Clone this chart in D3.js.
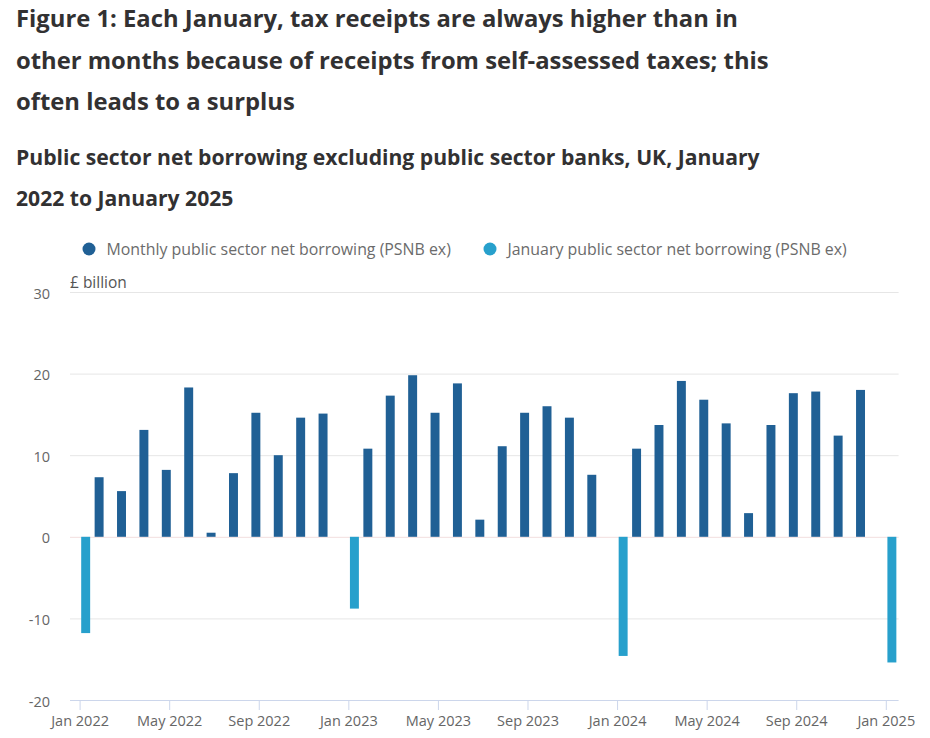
<!DOCTYPE html>
<html>
<head>
<meta charset="utf-8">
<script src="https://cdn.jsdelivr.net/npm/d3@7"></script>
<style>
  html, body { margin: 0; padding: 0; background: #fff; }
  svg { display: block; font-family: "Open Sans", sans-serif; }
</style>
</head>
<body>
<svg id="chart" width="930" height="738"></svg>
<script>
// ---- Data ----
const titleLines = [
  "Figure 1: Each January, tax receipts are always higher than in",
  "other months because of receipts from self-assessed taxes; this",
  "often leads to a surplus"
];
const subtitleLines = [
  "Public sector net borrowing excluding public sector banks, UK, January",
  "2022 to January 2025"
];
const months = [
  "Jan 2022","Feb 2022","Mar 2022","Apr 2022","May 2022","Jun 2022","Jul 2022","Aug 2022","Sep 2022","Oct 2022","Nov 2022","Dec 2022",
  "Jan 2023","Feb 2023","Mar 2023","Apr 2023","May 2023","Jun 2023","Jul 2023","Aug 2023","Sep 2023","Oct 2023","Nov 2023","Dec 2023",
  "Jan 2024","Feb 2024","Mar 2024","Apr 2024","May 2024","Jun 2024","Jul 2024","Aug 2024","Sep 2024","Oct 2024","Nov 2024","Dec 2024",
  "Jan 2025"
];
const monthlyBorrowing = [
  null, 7.3, 5.6, 13.1, 8.2, 18.3, 0.5, 7.8, 15.2, 10.0, 14.6, 15.1,
  null, 10.8, 17.3, 19.8, 15.2, 18.8, 2.1, 11.1, 15.2, 16.0, 14.6, 7.6,
  null, 10.8, 13.7, 19.1, 16.8, 13.9, 2.9, 13.7, 17.6, 17.8, 12.4, 18.0,
  null
];
const januaryBorrowing = [
  -11.8, null, null, null, null, null, null, null, null, null, null, null,
  -8.8, null, null, null, null, null, null, null, null, null, null, null,
  -14.6, null, null, null, null, null, null, null, null, null, null, null,
  -15.4
];
const seriesNames = ["Monthly public sector net borrowing (PSNB ex)", "January public sector net borrowing (PSNB ex)"];
const seriesKeys = ["monthly", "january"];
const seriesColors = ["#206095", "#27a0cc"];
const yTicks = [-20, -10, 0, 10, 20, 30];
const xTickLabels = ["Jan 2022","May 2022","Sep 2022","Jan 2023","May 2023","Sep 2023","Jan 2024","May 2024","Sep 2024","Jan 2025"];
const yUnit = "£ billion";

// ---- Layout ----
const svg = d3.select("#chart");
const plot = { left: 70, right: 898.6, top: 292, bottom: 700 };

const x = d3.scaleBand().domain(months).range([plot.left, plot.right]).paddingInner(0.2).paddingOuter(0.1);
const xSub = d3.scaleBand().domain(seriesKeys).range([0, x.bandwidth()]);
const y = d3.scaleLinear().domain([-20, 30]).range([plot.bottom, plot.top]);

// Titles
svg.append("g").selectAll("text").data(titleLines).join("text")
  .attr("x", 16).attr("y", (d, i) => 27 + i * 41.7)
  .attr("fill", "#323132").attr("font-size", 23.8).attr("font-weight", 700)
  .text(d => d);
svg.append("g").selectAll("text").data(subtitleLines).join("text")
  .attr("x", 16).attr("y", (d, i) => 164.5 + i * 41.7)
  .attr("fill", "#323132").attr("font-size", 21.15).attr("font-weight", 700)
  .text(d => d);

// Legend
const legendX = [89, 490];
const leg = svg.append("g").selectAll("g").data(seriesNames).join("g")
  .attr("transform", (d, i) => `translate(${legendX[i]},249)`);
leg.append("circle").attr("r", 6.5).attr("fill", (d, i) => seriesColors[i]);
leg.append("text").attr("x", 17.5).attr("y", 5.5)
  .attr("fill", "#6b6b6b").attr("font-size", 15.9).text(d => d);

// Unit label
svg.append("text").attr("x", 70).attr("y", 288).attr("fill", "#555")
  .attr("font-size", 15.5).text(yUnit);

// Gridlines
svg.append("g").selectAll("line").data(yTicks.filter(t => t !== -20)).join("line")
  .attr("x1", plot.left).attr("x2", plot.right)
  .attr("y1", d => y(d) + 0.5).attr("y2", d => y(d) + 0.5)
  .attr("stroke", d => d === 0 ? "#f2dede" : "#e6e6e6").attr("stroke-width", 1);

// Y axis labels
svg.append("g").selectAll("text").data(yTicks).join("text")
  .attr("x", 50).attr("y", d => y(d) + 1.5).attr("dy", "0.35em")
  .attr("text-anchor", "end").attr("fill", "#666").attr("font-size", 14.5)
  .text(d => d);

// Bars
const rows = months.map((m, i) => ({ month: m, monthly: monthlyBorrowing[i], january: januaryBorrowing[i] }));
const groups = svg.append("g").selectAll("g").data(rows).join("g")
  .attr("transform", d => `translate(${x(d.month)},0)`);
groups.selectAll("rect")
  .data(d => seriesKeys.map((k, j) => ({ key: k, value: d[k], color: seriesColors[j] })).filter(e => e.value != null))
  .join("rect")
  .attr("x", e => xSub(e.key))
  .attr("width", xSub.bandwidth())
  .attr("y", e => y(Math.max(0, e.value)))
  .attr("height", e => Math.abs(y(e.value) - y(0)))
  .attr("fill", e => e.color);

// X axis
const xAxis = d3.axisBottom(x).tickValues(xTickLabels).tickSize(10).tickPadding(6);
const gx = svg.append("g").attr("transform", `translate(-1.1,${plot.bottom})`).call(xAxis);
gx.select(".domain").attr("stroke", "#ccd6eb").attr("d", `M${plot.left + 1.1},0.5H${plot.right + 1.1}`);
gx.selectAll(".tick line").attr("stroke", "#ccd6eb");
gx.selectAll(".tick text").attr("fill", "#666").attr("font-size", 14.5)
  .attr("font-family", "Open Sans, sans-serif");
</script>
</body>
</html>
